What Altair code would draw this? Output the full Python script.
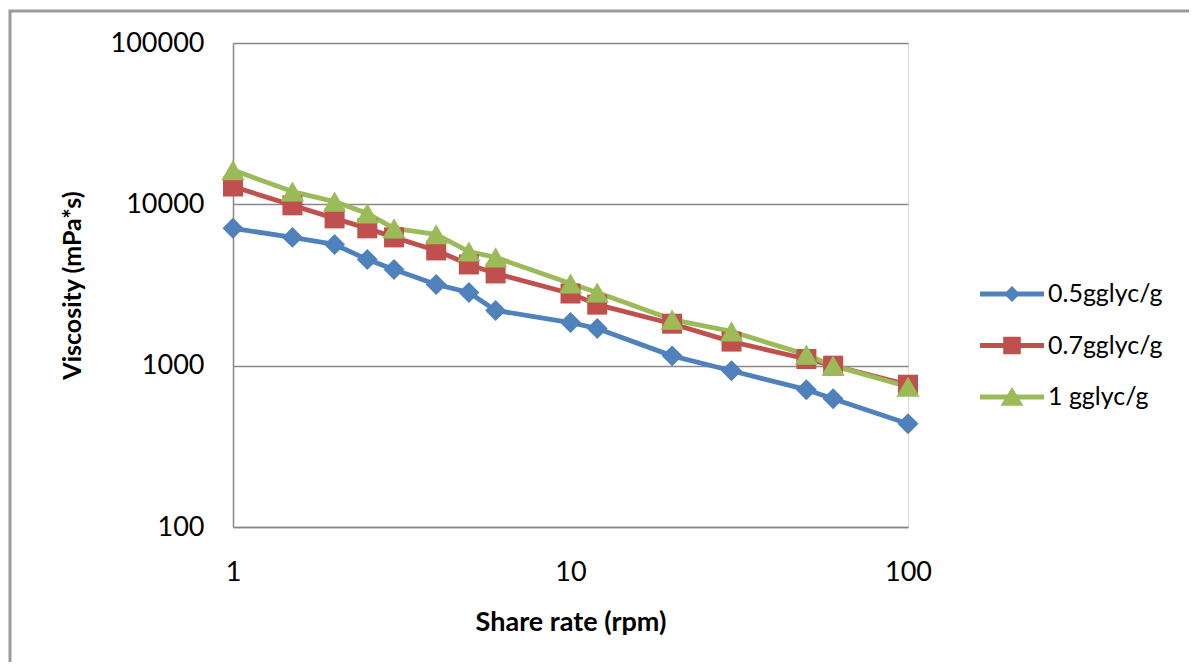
import altair as alt
import pandas as pd

shear_rate = [1, 1.5, 2, 2.5, 3, 4, 5, 6, 10, 12, 20, 30, 50, 60, 100]
visc_05 = [7100, 6240, 5640, 4550, 3950, 3190, 2840, 2200, 1850, 1700, 1150, 930, 710, 624, 436]
visc_07 = [12900, 9860, 8180, 7100, 6240, 5180, 4240, 3730, 2800, 2390, 1820, 1410, 1100, 1000, 762]
visc_10 = [16300, 12000, 10400, 8790, 7100, 6520, 5100, 4690, 3230, 2840, 1930, 1630, 1170, 1000, 740]
series_names = ["0.5gglyc/g", "0.7gglyc/g", "1 gglyc/g"]
series_colors = ["#4F81BD", "#C0504D", "#9BBB59"]
series_shapes = ["diamond", "square", "triangle-up"]
series_sizes = [440, 400, 540]
y_ticks = [100, 1000, 10000, 100000]
x_ticks = [1, 10, 100]

rows = []
for name, vals in zip(series_names, [visc_05, visc_07, visc_10]):
    for xv, yv in zip(shear_rate, vals):
        rows.append({"rate": xv, "visc": yv, "series": name})
df = pd.DataFrame(rows)

FONT = "Lato"

# legend glyphs: a short line (as a thin filled bar) with the marker in the middle
legend_glyphs = [
    "M-2,-0.16H2V0.16H-2ZM0,-0.5L0.5,0L0,0.5L-0.5,0Z",
    "M-2,-0.16H2V0.16H-2ZM-0.55,-0.55H0.55V0.55H-0.55Z",
    "M-2,-0.16H2V0.16H-2ZM0,-0.62L0.72,0.55L-0.72,0.55Z",
]

x_enc = alt.X(
    "rate:Q",
    scale=alt.Scale(type="log", domain=[1, 100], nice=False),
    axis=alt.Axis(
        values=x_ticks, format="d", grid=False, ticks=False, labelFlush=False,
        domainColor="#888888", domainWidth=1.5,
        labelFont=FONT, labelFontSize=27, labelColor="#000000", labelPadding=32,
        title="Share rate (rpm)", titleFont=FONT, titleFontSize=27, titleFontWeight="bold",
        titleColor="#000000", titlePadding=24,
    ),
)
y_enc = alt.Y(
    "visc:Q",
    scale=alt.Scale(type="log", domain=[100, 100000], nice=False),
    axis=alt.Axis(
        values=y_ticks, format="d", grid=True, gridColor="#888888", gridWidth=1.5,
        ticks=False, domainColor="#888888", domainWidth=1.5,
        labelFont=FONT, labelFontSize=27, labelColor="#000000", labelPadding=29,
        title="Viscosity (mPa*s)", titleFont=FONT, titleFontSize=25, titleFontWeight="bold",
        titleColor="#000000", titlePadding=25,
    ),
)
legend = alt.Legend(
    title=None, orient="none", legendX=763, legendY=235, padding=0,
    symbolSize=1024, symbolStrokeWidth=0, symbolOpacity=1, labelOffset=20, rowPadding=22.5,
    labelFont=FONT, labelFontSize=25, labelColor="#000000",
)
color_enc = alt.Color("series:N", scale=alt.Scale(domain=series_names, range=series_colors), legend=legend)

border = alt.Chart(alt.Data(values=[{"a": 1}])).mark_rect(
    fill="transparent", stroke="#9a9a9a", strokeWidth=3
).encode(
    x=alt.value(-223), x2=alt.value(1300), y=alt.value(-32), y2=alt.value(900)
)

lines = alt.Chart(df).mark_line(strokeWidth=4.8, strokeJoin="round").encode(
    x=x_enc, y=y_enc, color=color_enc, detail="series:N"
)

legend_layer = alt.Chart(df).transform_filter("datum.rate < 0").mark_point(
    filled=True, opacity=1
).encode(
    x=x_enc, y=y_enc, color=color_enc,
    shape=alt.Shape("series:N", scale=alt.Scale(domain=series_names, range=legend_glyphs), legend=legend),
)

point_layers = []
for name, shp, sz in zip(series_names, series_shapes, series_sizes):
    point_layers.append(
        alt.Chart(df).transform_filter(alt.datum.series == name).mark_point(
            filled=True, opacity=1, shape=shp, size=sz
        ).encode(x=x_enc, y=y_enc, color=color_enc)
    )

chart = alt.layer(border, lines, legend_layer, *point_layers).properties(
    width=675, height=484,
    autosize=alt.AutoSizeParams(type="none"),
    padding={"left": 225, "top": 35, "right": 281, "bottom": 135},
).configure_view(stroke=None).configure(background="white")

chart.save("out.html", embed_options={"renderer": "svg", "actions": False})
